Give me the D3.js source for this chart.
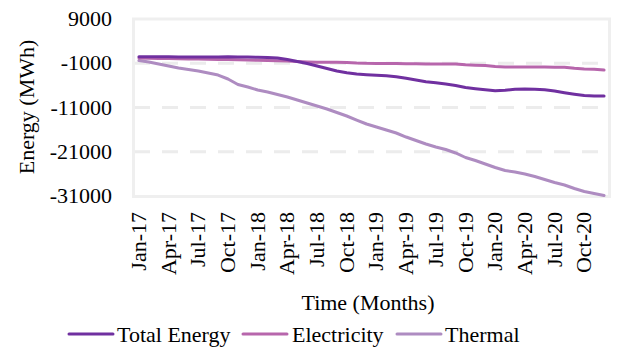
<!DOCTYPE html>
<html>
<head>
<meta charset="utf-8">
<script src="https://cdn.jsdelivr.net/npm/d3@7"></script>
</head>
<body style="margin:0">
<svg id="chart" width="633" height="347" style="display:block"></svg>
<script>
const months = [
  "Jan-17","Feb-17","Mar-17","Apr-17","May-17","Jun-17","Jul-17","Aug-17","Sep-17","Oct-17","Nov-17","Dec-17",
  "Jan-18","Feb-18","Mar-18","Apr-18","May-18","Jun-18","Jul-18","Aug-18","Sep-18","Oct-18","Nov-18","Dec-18",
  "Jan-19","Feb-19","Mar-19","Apr-19","May-19","Jun-19","Jul-19","Aug-19","Sep-19","Oct-19","Nov-19","Dec-19",
  "Jan-20","Feb-20","Mar-20","Apr-20","May-20","Jun-20","Jul-20","Aug-20","Sep-20","Oct-20","Nov-20","Dec-20"
];
const xTickLabels = ["Jan-17","Apr-17","Jul-17","Oct-17","Jan-18","Apr-18","Jul-18","Oct-18",
  "Jan-19","Apr-19","Jul-19","Oct-19","Jan-20","Apr-20","Jul-20","Oct-20"];
const yTickValues = [9000, -1000, -11000, -21000, -31000];

const totalEnergy = [460,480,480,460,430,410,390,390,410,460,430,390,
  340,320,190,-150,-610,-1060,-1620,-2190,-2750,-3140,-3430,-3590,
  -3720,-3810,-4040,-4400,-4790,-5170,-5400,-5690,-6030,-6480,-6750,-6980,
  -7200,-7110,-6890,-6820,-6870,-7000,-7270,-7660,-8000,-8290,-8400,-8400];
const electricity = [190,140,100,70,30,-20,-40,-90,-130,-180,-220,-270,
  -330,-380,-450,-490,-610,-720,-790,-790,-790,-810,-940,-1010,
  -1030,-1060,-1080,-1100,-1120,-1150,-1170,-1170,-1170,-1330,-1440,-1510,
  -1760,-1830,-1850,-1850,-1850,-1870,-1900,-1920,-2150,-2280,-2350,-2530];
const thermal = [-380,-720,-1170,-1620,-2070,-2410,-2750,-3200,-3660,-4560,-5800,-6370,
  -7050,-7500,-8060,-8630,-9310,-9980,-10660,-11340,-12130,-12920,-13830,-14730,
  -15410,-16090,-16760,-17670,-18460,-19250,-19930,-20490,-21280,-22300,-22980,-23770,
  -24560,-25240,-25580,-26030,-26600,-27270,-27950,-28520,-29310,-29990,-30440,-30890];

const seriesNames = ["Total Energy", "Electricity", "Thermal"];
const seriesColors = ["#7030A0", "#B766AC", "#AE8CC1"];
const seriesData = [totalEnergy, electricity, thermal];

const svg = d3.select("#chart");
const plot = {left: 134, right: 609, top: 19, bottom: 196};

const x = d3.scalePoint().domain(months).range([plot.left, plot.right]).padding(0.5);
const y = d3.scaleLinear().domain([-31000, 9000]).range([plot.bottom, plot.top]);

function serif(sel) {
  return sel.style("font-family", '"Liberation Serif"').style("font-size", "22px").attr("fill", "#000");
}

// gridlines
svg.append("g").selectAll("line")
  .data(yTickValues.filter(v => v !== 9000 && v !== -31000))
  .join("line")
  .attr("x1", plot.left).attr("x2", plot.right)
  .attr("y1", d => y(d)).attr("y2", d => y(d))
  .attr("stroke", "#ececec").attr("stroke-width", 3)
  .attr("stroke-dasharray", "16,12");

// plot border
svg.append("rect")
  .attr("x", plot.left - 0.5).attr("y", plot.top)
  .attr("width", plot.right - plot.left + 1).attr("height", plot.bottom - plot.top + 0.5)
  .attr("fill", "none").attr("stroke", "#efefef").attr("stroke-width", 3);

// y tick labels
serif(svg.append("g").selectAll("text")
  .data(yTickValues)
  .join("text"))
  .attr("x", plot.left - 22).attr("y", d => y(d) + 7)
  .attr("text-anchor", "end")
  .text(d => String(d));

// x tick labels
serif(svg.append("g").selectAll("text")
  .data(xTickLabels)
  .join("text"))
  .attr("text-anchor", "end")
  .attr("transform", d => `translate(${x(d) + 7},${plot.bottom + 16}) rotate(-90)`)
  .text(d => d);

// lines
const line = d3.line().x((d, i) => x(months[i])).y(d => y(d));
svg.append("g").selectAll("path")
  .data([2, 1, 0])
  .join("path")
  .attr("d", k => line(seriesData[k]))
  .attr("fill", "none")
  .attr("stroke", k => seriesColors[k])
  .attr("stroke-width", 3)
  .attr("stroke-linejoin", "round")
  .attr("stroke-linecap", "round");

// axis titles
serif(svg.append("text"))
  .attr("transform", `translate(34,107) rotate(-90)`)
  .attr("text-anchor", "middle")
  .text("Energy (MWh)");
serif(svg.append("text"))
  .attr("x", 368).attr("y", 310)
  .attr("text-anchor", "middle")
  .text("Time (Months)");

// legend
const legendItems = [
  {lx: 69, tx: 117},
  {lx: 243, tx: 292},
  {lx: 397, tx: 445}
];
const lg = svg.append("g");
legendItems.forEach((it, k) => {
  lg.append("line")
    .attr("x1", it.lx).attr("x2", it.lx + 44)
    .attr("y1", 334).attr("y2", 334)
    .attr("stroke", seriesColors[k]).attr("stroke-width", 3).attr("stroke-linecap", "round");
  serif(lg.append("text"))
    .attr("x", it.tx).attr("y", 342)
    .text(seriesNames[k]);
});
</script>
</body>
</html>
